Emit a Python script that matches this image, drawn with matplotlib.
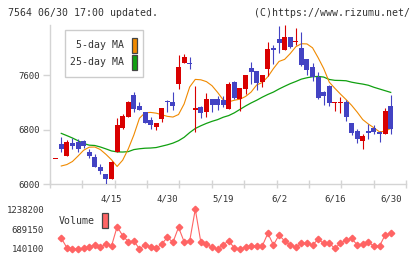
import numpy as np
import matplotlib
matplotlib.use("Agg")
import matplotlib.pyplot as plt
from matplotlib.patches import Rectangle

# ---------------- data ----------------
opens = [6368, 6592, 6420, 6606, 6621, 6635, 6479, 6401, 6259, 6151,
         6082, 6479, 6826, 6993, 7306, 7150, 7061, 6944, 6837, 6963,
         7223, 7208, 7468, 7785, 7781, 7095, 7135, 7066, 7248, 7248,
         7238, 7110, 7502, 7248, 7404, 7703, 7663, 7502, 7697, 7996,
         8137, 7977, 8162, 8089, 8001, 7839, 7726, 7580, 7360, 7443,
         7193, 7193, 7208, 6895, 6778, 6631, 6782, 6826, 6763, 6743,
         7150]
highs = [6374, 6690, 6655, 6675, 6670, 6655, 6514, 6445, 6298, 6151,
         6337, 6973, 7037, 7228, 7355, 7208, 7061, 6983, 6905, 7120,
         7237, 7355, 7902, 7913, 7864, 7447, 7154, 7336, 7258, 7290,
         7290, 7502, 7516, 7414, 7604, 7795, 7663, 7600, 8084, 8040,
         8324, 8338, 8162, 8294, 8236, 7839, 7785, 7648, 7374, 7462,
         7208, 7277, 7237, 6895, 6812, 6738, 6881, 6866, 6778, 7116,
         7311]
lows = [6368, 6474, 6420, 6514, 6474, 6538, 6381, 6249, 6151, 6000,
        6082, 6479, 6807, 6993, 7061, 7091, 6905, 6812, 6797, 6919,
        7057, 7086, 7403, 7776, 7688, 6772, 6978, 6993, 7066, 7091,
        7130, 7110, 7257, 7081, 7325, 7477, 7384, 7424, 7585, 7766,
        7932, 7977, 7996, 8040, 7741, 7604, 7512, 7257, 7169, 7154,
        7081, 7051, 6934, 6719, 6611, 6523, 6670, 6738, 6621, 6743,
        6743]
closes = [6374, 6514, 6621, 6567, 6523, 6562, 6415, 6249, 6200, 6082,
          6327, 6870, 7002, 7208, 7110, 7091, 6905, 6866, 6895, 7115,
          7203, 7150, 7722, 7864, 7761, 7124, 7042, 7248, 7160, 7160,
          7160, 7472, 7272, 7414, 7604, 7653, 7483, 7600, 7982, 7977,
          8079, 8162, 8020, 8108, 7756, 7678, 7571, 7272, 7301, 7198,
          7198, 7198, 6983, 6758, 6670, 6709, 6753, 6772, 6738, 7076,
          6816]
ma5 = [np.nan, 6269, 6290, 6335, 6415, 6500, 6545, 6548, 6510, 6440,
       6360, 6262, 6355, 6520, 6725, 6970, 7051, 7056, 7045, 7022,
       6998, 6988, 7025, 7180, 7430, 7541, 7535, 7508, 7448, 7350,
       7240, 7212, 7235, 7250, 7290, 7355, 7460, 7495, 7580, 7700,
       7805, 7835, 7920, 8020, 8065, 8062, 8005, 7860, 7700, 7500,
       7410, 7325, 7245, 7160, 7060, 6950, 6885, 6830, 6770, 6780,
       6820]
ma25 = [np.nan, 6748, 6715, 6680, 6640, 6600, 6575, 6570, 6548, 6520,
        6490, 6476, 6474, 6480, 6510, 6522, 6530, 6533, 6540, 6560,
        6580, 6605, 6640, 6690, 6760, 6820, 6860, 6895, 6925, 6950,
        6985, 7010, 7050, 7100, 7150, 7195, 7235, 7280, 7320, 7355,
        7400, 7440, 7478, 7510, 7545, 7565, 7580, 7585, 7575, 7540,
        7527, 7525, 7521, 7500, 7485, 7472, 7455, 7425, 7400, 7375,
        7350]
volume = [np.nan, 440000, 176000, 142000, 140100, 159000, 204000, 251000, 187000, 278000,
          223000, 757000, 508000, 342000, 361000, 145000, 251000, 204000, 159000, 278000,
          463000, 325000, 740000, 342000, 361000, 1238200, 325000, 278000, 187000, 142000,
          251000, 375000, 159000, 148000, 187000, 223000, 223000, 223000, 574000, 251000,
          527000, 361000, 251000, 187000, 297000, 297000, 251000, 408000, 297000, 297000,
          159000, 297000, 389000, 436000, 251000, 270000, 325000, 223000, 223000, 527000,
          574000]
date_labels = ["4/15", "4/30", "5/19", "6/2", "6/16", "6/30"]
date_label_idx = [10, 20, 30, 40, 50, 60]
price_ticks = [6000, 6800, 7600]
vol_ticks = [140100, 689150, 1238200]

# ---------------- style ----------------
W, H = 420, 259
RED = "#d90000"
BLUE = "#4343c3"
ORANGE = "#f08a00"
GREEN = "#10a010"
VOLC = "#ff6464"
GRID = "#d4d4d4"
TXT = "#333333"
MONO = "DejaVu Sans Mono"

def fx(px):
    return px / W

def fy(py):
    return 1 - py / H

fig = plt.figure(figsize=(W / 100, H / 100), dpi=100)
fig.patch.set_facecolor("white")

x = np.arange(len(closes))
XMIN, XMAX = -1.02, 62.74

ax = fig.add_axes([fx(50), fy(184.3), fx(406) - fx(50), fy(25) - fy(184.3)])
ax.set_xlim(XMIN, XMAX)
ax.set_ylim(6000, 8340)

# moving averages (under candles)
ax.plot(x, ma25, color=GREEN, lw=0.9, zorder=2)
ax.plot(x, ma5, color=ORANGE, lw=0.8, zorder=2)

# candles
o = np.array(opens, float)
c = np.array(closes, float)
hi = np.array(highs, float)
lo = np.array(lows, float)
up = c >= o
cols = np.where(up, RED, BLUE)
ax.vlines(x, lo, hi, colors=cols, lw=0.8, zorder=3)
bottom = np.minimum(o, c)
height = np.maximum(np.abs(c - o), 12)
ax.bar(x, height, bottom=bottom, width=0.9, color=cols, linewidth=0, zorder=4)

for s in ["top", "right"]:
    ax.spines[s].set_visible(False)
for s in ["left", "bottom"]:
    ax.spines[s].set_color(GRID)
    ax.spines[s].set_linewidth(1)

ax.set_yticks(price_ticks)
ax.set_yticklabels([str(v) for v in price_ticks], family=MONO, fontsize=6.5, color=TXT)
ax.tick_params(axis="y", length=5, width=1, color=GRID, pad=2.5)

ax.set_xticks(date_label_idx)
ax.set_xticklabels(date_labels, family=MONO, fontsize=6.5, color=TXT)
ax.tick_params(axis="x", which="major", length=0, pad=7)
ax.set_xticks(np.linspace(XMIN, XMAX, 12), minor=True)
ax.tick_params(axis="x", which="minor", direction="inout", length=5.5, width=1, color=GRID)

# volume
axv = fig.add_axes([fx(50), fy(249), fx(406) - fx(50), fy(209.3) - fy(249)])
axv.set_xlim(XMIN, XMAX)
axv.set_ylim(140100, 1238200)
axv.plot(x, volume, color=VOLC, lw=0.8, marker="D", ms=3.3, mec=VOLC, mfc=VOLC, clip_on=False)
for s in axv.spines.values():
    s.set_visible(False)
axv.set_xticks([])
axv.set_yticks(vol_ticks)
axv.set_yticklabels([str(v) for v in vol_ticks], family=MONO, fontsize=6.5, color=TXT)
axv.tick_params(axis="y", length=0, pad=4.3)
axv.patch.set_alpha(0)

# header
fig.text(fx(8), fy(12.5), "7564 06/30 17:00 updated.", family=MONO, fontsize=7.1,
         color=TXT, ha="left", va="center")
fig.text(fx(410), fy(12.5), "(C)https://www.rizumu.net/", family=MONO, fontsize=7.1,
         color=TXT, ha="right", va="center")

# legend box
fig.add_artist(Rectangle((fx(65), fy(77)), fx(143) - fx(65), fy(30) - fy(77),
                         transform=fig.transFigure, fc="white", ec="#cccccc", lw=1, zorder=5))
for label, col, py in [("5-day MA", ORANGE, 45.3), ("25-day MA", GREEN, 62.3)]:
    fig.text(fx(124.5), fy(py), label, family=MONO, fontsize=7.1, color=TXT,
             ha="right", va="center", zorder=6)
    fig.add_artist(Rectangle((fx(131.5), fy(py + 7.3)), fx(137.3) - fx(131.5), fy(py - 7.3) - fy(py + 7.3),
                             transform=fig.transFigure, fc=col, ec="#444444", lw=0.9, zorder=6))

# volume label
fig.text(fx(59), fy(221.5), "Volume", family=MONO, fontsize=7.1, color=TXT, ha="left", va="center")
fig.add_artist(Rectangle((fx(101.7), fy(228.3)), fx(107.7) - fx(101.7), fy(212.7) - fy(228.3),
                         transform=fig.transFigure, fc=VOLC, ec="#444444", lw=0.9, zorder=6))

fig.savefig("out.png", dpi=100, facecolor="white")
